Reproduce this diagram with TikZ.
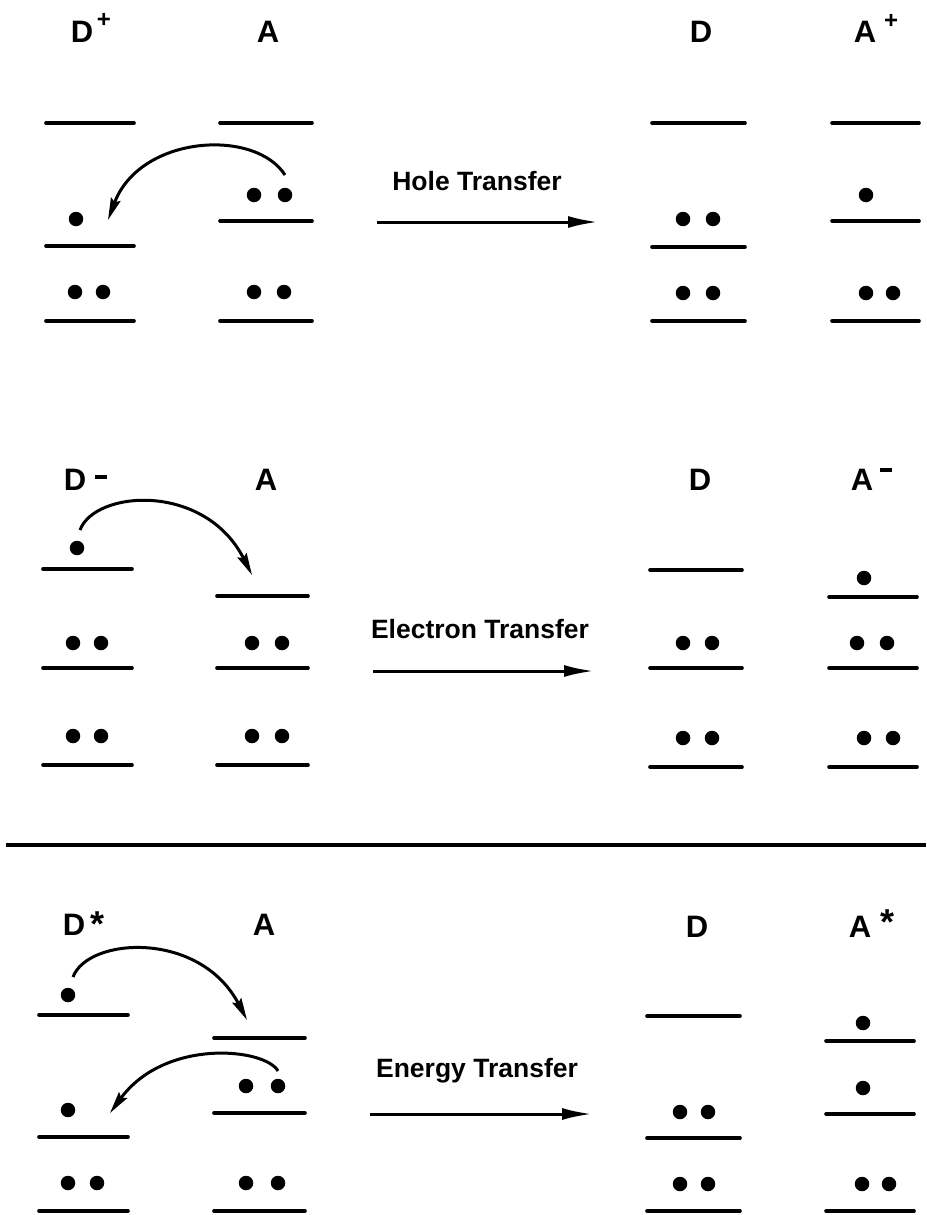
\documentclass[tikz,border=0pt]{standalone}
\usepackage{fontspec}
\setmainfont{Liberation Sans}
\usetikzlibrary{arrows.meta}
\begin{document}
\begin{tikzpicture}[x=1pt,y=-1pt,
  lvl/.style={line width=3.6pt,line cap=round},
  dot/.style={circle,fill=black,inner sep=0pt,minimum size=14.5pt},
  lbl/.style={anchor=base,inner sep=0pt,font=\fontsize{31}{34}\selectfont\bfseries},
  supl/.style={anchor=base,inner sep=0pt,font=\fontsize{24}{28}\selectfont\bfseries},
  star/.style={anchor=base,inner sep=0pt,font=\fontsize{36}{40}\selectfont\bfseries},
  mns/.style={anchor=center,inner sep=0pt},
  ttl/.style={anchor=base,inner sep=0pt,font=\fontsize{26.5}{30}\selectfont\bfseries},
  hop/.style={line width=3pt,-{Stealth[length=22pt,width=10pt,inset=3pt]}},
  rxn/.style={line width=3pt,-{Latex[length=30pt,width=12pt]}}]
\useasboundingbox (0,0) rectangle (926,1215);
% ================= Section 1: Hole transfer =================
\node[lbl] (l1d) at (82,43) {D};
\node[supl] (l1dp) at (104,28) {+};
\node[lbl] (l1a) at (268,43) {A};
\node[lbl] (r1d) at (701,43) {D};
\node[lbl] (r1a) at (865,43) {A};
\node[supl] (r1ap) at (891,29) {+};
% levels
\draw[lvl] (46,123) -- (134,123); \draw[lvl] (46,246) -- (134,246); \draw[lvl] (46,321) -- (134,321);
\draw[lvl] (220,123) -- (312,123); \draw[lvl] (220,221) -- (312,221); \draw[lvl] (220,321) -- (312,321);
\draw[lvl] (652,123) -- (745,123); \draw[lvl] (652,247) -- (745,247); \draw[lvl] (652,321) -- (745,321);
\draw[lvl] (832,123) -- (919,123); \draw[lvl] (832,221) -- (919,221); \draw[lvl] (832,321) -- (919,321);
% dots
\node[dot] (s1d1) at (76,219) {};
\node[dot] (s1d2) at (75,292) {}; \node[dot] (s1d3) at (103,292) {};
\node[dot] (s1a1) at (254,195) {}; \node[dot] (s1a2) at (285,195) {};
\node[dot] (s1a3) at (254,292) {}; \node[dot] (s1a4) at (284,292) {};
\node[dot] (s1r1) at (683,219) {}; \node[dot] (s1r2) at (713,219) {};
\node[dot] (s1r3) at (683,293) {}; \node[dot] (s1r4) at (713,293) {};
\node[dot] (s1q1) at (866,195) {};
\node[dot] (s1q2) at (866,293) {}; \node[dot] (s1q3) at (893,293) {};
% hop arrow
\coordinate (h1s) at (285,175);
\coordinate (h1e) at (108,220);
\draw[hop] (h1s) .. controls (255,128) and (140,135) .. (h1e);
% reaction
\node[ttl] (t1) at (477,190) {Hole Transfer};
\coordinate (a1s) at (377,222);
\coordinate (a1e) at (598,222);
\draw[rxn] (a1s) -- (a1e);
% ================= Section 2: Electron transfer =================
\node[lbl] (l2d) at (75,490) {D};
\node[mns] (l2dm) at (101,477) {\rule{12pt}{3.5pt}};
\node[lbl] (l2a) at (266,490) {A};
\node[lbl] (r2d) at (700,490) {D};
\node[lbl] (r2a) at (862,490) {A};
\node[mns] (r2am) at (886,470) {\rule{12pt}{3.5pt}};
\draw[lvl] (43,569) -- (132,569); \draw[lvl] (43,668) -- (132,668); \draw[lvl] (43,765) -- (132,765);
\draw[lvl] (217,596) -- (308,596); \draw[lvl] (217,668) -- (308,668); \draw[lvl] (217,765) -- (308,765);
\draw[lvl] (650,570) -- (742,570); \draw[lvl] (650,668) -- (742,668); \draw[lvl] (650,767) -- (742,767);
\draw[lvl] (829,597) -- (917,597); \draw[lvl] (829,668) -- (917,668); \draw[lvl] (829,767) -- (917,767);
\node[dot] (s2d1) at (77,548) {};
\node[dot] (s2d2) at (73,643) {}; \node[dot] (s2d3) at (101,643) {};
\node[dot] (s2d4) at (73,736) {}; \node[dot] (s2d5) at (101,736) {};
\node[dot] (s2a1) at (252,643) {}; \node[dot] (s2a2) at (282,643) {};
\node[dot] (s2a3) at (252,736) {}; \node[dot] (s2a4) at (282,736) {};
\node[dot] (s2r1) at (683,643) {}; \node[dot] (s2r2) at (712,643) {};
\node[dot] (s2r3) at (683,738) {}; \node[dot] (s2r4) at (712,738) {};
\node[dot] (s2q1) at (864,578) {};
\node[dot] (s2q2) at (857,643) {}; \node[dot] (s2q3) at (887,643) {};
\node[dot] (s2q4) at (864,738) {}; \node[dot] (s2q5) at (893,738) {};
\coordinate (h2s) at (80,530);
\coordinate (h2e) at (252,575);
\draw[hop] (h2s) .. controls (95,490) and (205,482) .. (h2e);
\node[ttl] (t2) at (480,638) {Electron Transfer};
\coordinate (a2s) at (373,671);
\coordinate (a2e) at (594,671);
\draw[rxn] (a2s) -- (a2e);
% separator
\coordinate (sepl) at (6,845);
\coordinate (sepr) at (926,845);
\draw[line width=3.8pt] (sepl) -- (sepr);
% ================= Section 3: Energy transfer =================
\node[lbl] (l3d) at (74,935) {D};
\node[star] (l3ds) at (98,936) {*};
\node[lbl] (l3a) at (264,935) {A};
\node[lbl] (r3d) at (697,937) {D};
\node[lbl] (r3a) at (860,937) {A};
\node[star] (r3as) at (887,934) {*};
\draw[lvl] (39,1015) -- (128,1015); \draw[lvl] (39,1137) -- (128,1137); \draw[lvl] (39,1211) -- (128,1211);
\draw[lvl] (214,1038) -- (305,1038); \draw[lvl] (214,1113) -- (305,1113); \draw[lvl] (214,1211) -- (305,1211);
\draw[lvl] (647,1016) -- (740,1016); \draw[lvl] (647,1138) -- (740,1138); \draw[lvl] (647,1211) -- (740,1211);
\draw[lvl] (826,1041) -- (914,1041); \draw[lvl] (826,1114) -- (914,1114); \draw[lvl] (826,1211) -- (914,1211);
\node[dot] (s3d1) at (68,995) {};
\node[dot] (s3d2) at (68,1110) {};
\node[dot] (s3d3) at (68,1183) {}; \node[dot] (s3d4) at (97,1183) {};
\node[dot] (s3a1) at (246,1086) {}; \node[dot] (s3a2) at (278,1086) {};
\node[dot] (s3a3) at (246,1183) {}; \node[dot] (s3a4) at (278,1183) {};
\node[dot] (s3r1) at (680,1112) {}; \node[dot] (s3r2) at (708,1112) {};
\node[dot] (s3r3) at (680,1184) {}; \node[dot] (s3r4) at (708,1184) {};
\node[dot] (s3q1) at (863,1023) {};
\node[dot] (s3q2) at (863,1088) {};
\node[dot] (s3q3) at (862,1184) {}; \node[dot] (s3q4) at (889,1184) {};
\coordinate (h3s) at (73,977);
\coordinate (h3e) at (247,1020);
\draw[hop] (h3s) .. controls (88,937) and (200,930) .. (h3e);
\coordinate (h4s) at (278,1071);
\coordinate (h4e) at (110,1113);
\draw[hop] (h4s) .. controls (265,1048) and (165,1038) .. (h4e);
\node[ttl] (t3) at (477,1077) {Energy Transfer};
\coordinate (a3s) at (370,1114);
\coordinate (a3e) at (592,1114);
\draw[rxn] (a3s) -- (a3e);
\end{tikzpicture}
\end{document}
